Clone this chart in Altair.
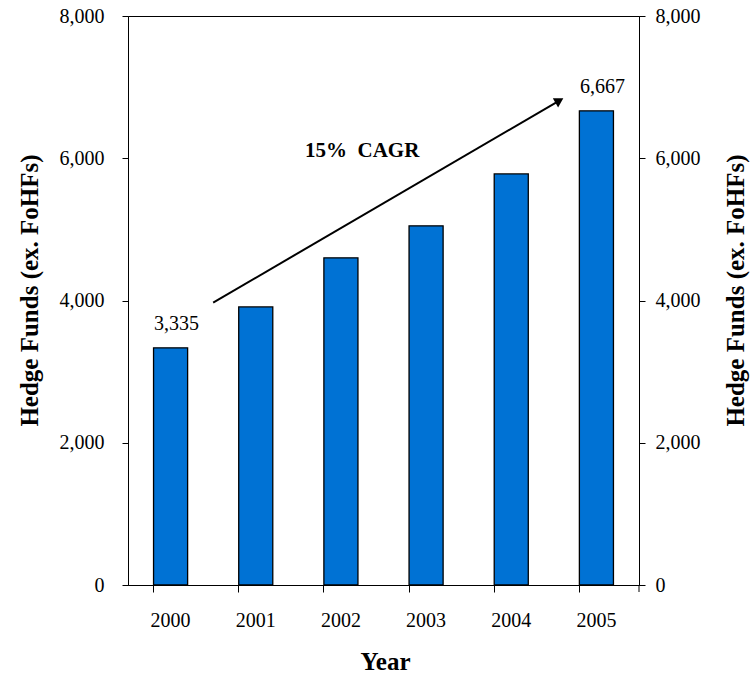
import altair as alt
import pandas as pd

years = ["2000", "2001", "2002", "2003", "2004", "2005"]
funds = [3335, 3910, 4600, 5050, 5780, 6667]
shown_labels = ["3,335", "", "", "", "", "6,667"]

y_ticks = [0, 2000, 4000, 6000, 8000]

# CAGR arrow annotation (x in year-slot units, y in fund counts)
arrow_x = [1.0, 5.05]
arrow_y = [3970, 6800]
cagr_text = ["15%\u00a0 CAGR"]
cagr_x = [2.75]
cagr_y = [6020]

FONT = "Liberation Serif"
BLUE = "#0072D4"

df = pd.DataFrame({"year": years, "funds": funds, "label": shown_labels})
arrow_df = pd.DataFrame({"ax": arrow_x, "ay": arrow_y})
head_df = pd.DataFrame({"ax": [arrow_x[-1]], "ay": [arrow_y[-1]]})
cagr_df = pd.DataFrame({"ax": cagr_x, "ay": cagr_y, "t": cagr_text})

yscale = alt.Scale(domain=[0, 8000], nice=False)

left_axis = alt.Axis(
    title="Hedge Funds (ex. FoHFs)", values=y_ticks, format=",.0f", grid=False,
    labelFont=FONT, labelFontSize=20, labelColor="black", labelPadding=18,
    tickColor="black", tickSize=6, domainColor="black",
    titleFont=FONT, titleFontSize=25, titleFontWeight="bold", titleColor="black",
    titleAngle=270, titleX=-91, titleY=274, titleBaseline="alphabetic", titleAlign="center",
)
right_axis = alt.Axis(
    title="Hedge Funds (ex. FoHFs)", values=y_ticks, format=",.0f", grid=False, orient="right",
    labelFont=FONT, labelFontSize=20, labelColor="black", labelPadding=10,
    tickColor="black", tickSize=6, domainColor="black",
    titleFont=FONT, titleFontSize=25, titleFontWeight="bold", titleColor="black",
    titleAngle=270, titleX=104, titleY=274, titleBaseline="alphabetic", titleAlign="center",
)
x_axis = alt.Axis(
    title="Year", labelAngle=0, bandPosition=0, grid=False,
    labelFont=FONT, labelFontSize=20, labelColor="black", labelPadding=34,
    labelBaseline="alphabetic",
    tickColor="black", tickSize=7, domainColor="black",
    titleFont=FONT, titleFontSize=25, titleFontWeight="bold", titleColor="black",
    titleX=257, titleY=84, titleBaseline="alphabetic", titleAlign="center",
)

base = alt.Chart(df).encode(
    x=alt.X("year:O", axis=x_axis,
            scale=alt.Scale(paddingInner=0.6, paddingOuter=0.3)),
)
bars = base.mark_bar(color=BLUE, stroke="black", strokeWidth=1.3).encode(
    y=alt.Y("funds:Q", scale=yscale, axis=left_axis)
)
labels = base.mark_text(font=FONT, fontSize=20, color="black", dx=6, dy=-18,
                        baseline="alphabetic").encode(
    y=alt.Y("funds:Q", scale=yscale),
    text="label:N",
)
left_part = alt.layer(bars, labels)

xq = alt.Scale(domain=[0, 6], nice=False, zero=False)
line = alt.Chart(arrow_df).mark_line(color="black", strokeWidth=2).encode(
    x=alt.X("ax:Q", scale=xq, axis=None),
    y=alt.Y("ay:Q", scale=yscale, axis=right_axis),
)
head = alt.Chart(head_df).mark_point(shape="triangle", filled=True, color="black",
                                     size=110, angle=60, opacity=1).encode(
    x=alt.X("ax:Q", scale=xq, axis=None),
    y=alt.Y("ay:Q", scale=yscale),
)
cagr = alt.Chart(cagr_df).mark_text(font=FONT, fontSize=21, fontWeight="bold",
                                    color="black", baseline="alphabetic",
                                    align="center").encode(
    x=alt.X("ax:Q", scale=xq, axis=None),
    y=alt.Y("ay:Q", scale=yscale),
    text="t:N",
)
end_tick = alt.Chart(cagr_df).mark_rule(color="black", strokeWidth=1).encode(
    x=alt.value(511), y=alt.value(569), y2=alt.value(576)
)
right_part = alt.layer(line, head, cagr, end_tick)

chart = alt.layer(left_part, right_part).resolve_scale(
    x="independent", y="shared"
).resolve_axis(y="independent").properties(
    width=511, height=569,
    autosize=alt.AutoSizeParams(type="none"),
    padding={"left": 128, "top": 16, "right": 116, "bottom": 91},
    background="white",
).configure_view(stroke="black", strokeWidth=1)

chart.save("out.html", embed_options={"renderer": "svg", "actions": False})
